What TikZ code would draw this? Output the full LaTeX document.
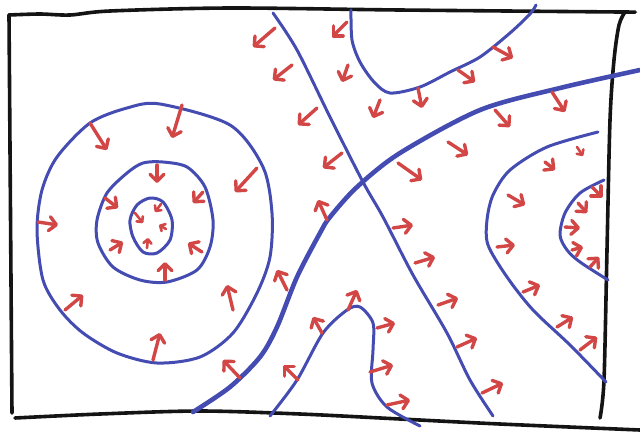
\documentclass[tikz,border=0pt]{standalone}
\usetikzlibrary{arrows.meta}
\definecolor{pen}{RGB}{20,20,20}
\definecolor{cblue}{RGB}{68,76,178}
\definecolor{cred}{RGB}{210,70,70}
\tikzset{
  frame/.style={draw=pen,line width=3.6pt,line cap=round,line join=round},
  contour/.style={draw=cblue,line width=3pt,line cap=round},
  thickcontour/.style={draw=cblue,line width=4.6pt,line cap=round},
  grad/.style={draw=cred,line width=3.4pt,line cap=round,
    -{Straight Barb[length=7pt,width=14pt,line cap=round,line join=round]}},
  smallgrad/.style={draw=cred,line width=2.6pt,line cap=round,
    -{Straight Barb[length=4pt,width=8pt,line cap=round,line join=round]}}
}
\begin{document}
\begin{tikzpicture}[x=1pt,y=-1pt]
\useasboundingbox (0,0) rectangle (640,432);
% frame
\draw[frame] (12,413) -- (9,15);
\draw[frame] plot[smooth] coordinates {(9,15) (40,14) (70,15) (110,11) (230,8) (400,10) (620,12) (625,12)};
\draw[frame] plot[smooth] coordinates {(625,12) (619,25) (614,60) (610,120) (607,250) (604,380) (600,418)};
\draw[frame] plot[smooth] coordinates {(15,418) (100,414) (200,411) (300,414) (400,419) (500,424) (640,430)};
% concentric contours
\draw[contour] plot[smooth cycle] coordinates {(160,104) (230,125) (263,167) (272,213) (270,257) (257,293) (233,333) (200,357) (157,363) (117,353) (83,333) (60,310) (43,280) (37,230) (42,190) (57,157) (90,123) (127,108)};
\draw[contour] plot[smooth cycle] coordinates {(163,162) (187,167) (205,187) (213,220) (210,247) (197,270) (167,282) (140,280) (113,267) (98,243) (97,220) (107,193) (127,173) (143,163)};
\draw[contour] plot[smooth cycle] coordinates {(150,198) (163,202) (172,220) (170,240) (157,253) (143,252) (133,237) (130,220) (137,205)};
% diagonal contour
\draw[contour] plot[smooth] coordinates {(273,13) (297,50) (330,117) (363,182) (383,217) (413,275) (447,333) (470,380) (493,416)};
% upper hyperbola branch
\draw[contour] plot[smooth] coordinates {(351,10) (352,40) (360,62) (374,82) (390,93) (420,87) (450,72) (480,57) (510,33) (530,14) (536,5)};
% thick separatrix
\draw[thickcontour] plot[smooth] coordinates {(640,70) (560,88) (480,110) (400,153) (357,187) (330,217) (320,233) (297,277) (277,327) (260,357) (230,387) (193,412)};
% bump at bottom
\draw[contour] plot[smooth] coordinates {(270,416) (297,380) (323,333) (347,310) (360,307) (373,323) (373,350) (372,383) (387,407) (420,426)};
% right contours
\draw[contour] plot[smooth] coordinates {(598,132) (547,147) (510,170) (493,195) (487,220) (488,245) (507,277) (533,310) (570,345) (606,382)};
\draw[contour] plot[smooth] coordinates {(604,180) (580,193) (565,213) (560,235) (567,250) (580,262) (608,280)};
% gradient arrows, left rings
\draw[grad] (90,123) -- (107,150);
\draw[grad] (182,105) -- (172,138);
\draw[grad] (257,168) -- (235,192);
\draw[grad] (38,222) -- (58,225);
\draw[grad] (65,310) -- (83,295);
\draw[grad] (153,360) -- (160,333);
\draw[grad] (233,310) -- (227,285);
\draw[grad] (240,378) -- (223,360);
\draw[grad] (157,165) -- (157,183);
\draw[grad] (203,192) -- (193,203);
\draw[grad] (202,252) -- (188,243);
\draw[grad] (165,280) -- (165,262);
\draw[grad] (110,250) -- (123,242);
\draw[grad] (105,198) -- (118,208);
\draw[smallgrad] (135,213) -- (143,223);
\draw[smallgrad] (161,204) -- (155,212);
\draw[smallgrad] (166,229) -- (159,225);
\draw[smallgrad] (147,248) -- (148,238);
% upper area
\draw[grad] (275,28) -- (253,47);
\draw[grad] (347,22) -- (332,37);
\draw[grad] (292,65) -- (273,80);
\draw[grad] (348,65) -- (342,82);
\draw[grad] (317,108) -- (298,125);
\draw[grad] (380,100) -- (373,118);
\draw[grad] (418,88) -- (422,108);
\draw[grad] (493,47) -- (513,58);
\draw[grad] (458,70) -- (475,82);
\draw[grad] (342,153) -- (323,168);
\draw[grad] (552,92) -- (565,112);
\draw[grad] (495,110) -- (510,127);
\draw[grad] (448,142) -- (468,155);
\draw[grad] (398,163) -- (422,180);
\draw[smallgrad] (577,147) -- (583,156);
\draw[grad] (545,162) -- (555,170);
\draw[grad] (508,195) -- (525,205);
\draw[grad] (592,187) -- (602,197);
\draw[grad] (578,203) -- (587,213);
\draw[grad] (327,220) -- (318,200);
% lower area
\draw[grad] (287,290) -- (277,270);
\draw[grad] (298,380) -- (283,365);
\draw[grad] (322,333) -- (313,317);
\draw[grad] (348,310) -- (357,290);
\draw[grad] (377,328) -- (395,323);
\draw[grad] (370,372) -- (393,365);
\draw[grad] (387,405) -- (410,400);
\draw[grad] (393,228) -- (413,225);
\draw[grad] (415,263) -- (435,257);
\draw[grad] (438,305) -- (458,298);
\draw[grad] (457,347) -- (477,338);
\draw[grad] (482,393) -- (503,383);
\draw[grad] (497,247) -- (515,245);
\draw[grad] (523,292) -- (540,285);
\draw[grad] (557,327) -- (573,317);
\draw[grad] (580,350) -- (597,337);
\draw[grad] (565,227) -- (580,228);
\draw[grad] (572,250) -- (583,247);
\draw[grad] (590,267) -- (599,257);
\end{tikzpicture}
\end{document}
